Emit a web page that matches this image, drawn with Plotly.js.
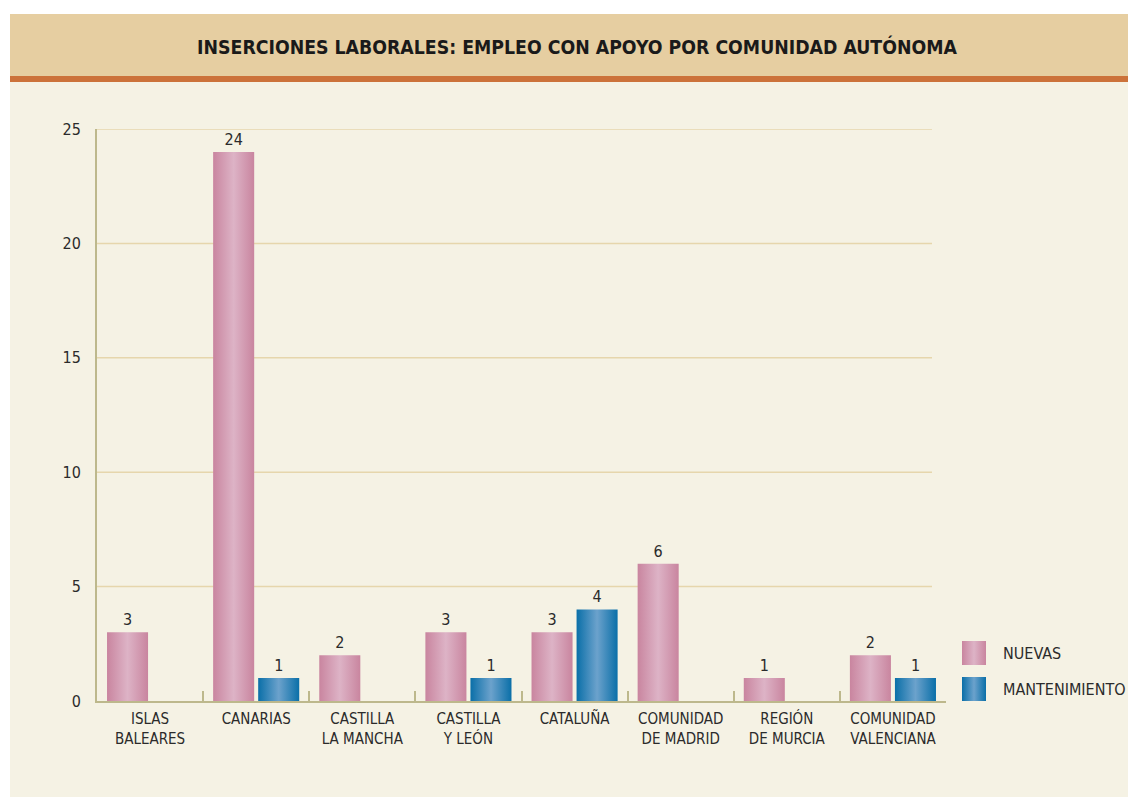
<!DOCTYPE html>
<html>
<head>
<meta charset="utf-8">
<script src="https://cdn.plot.ly/plotly-3.0.1.min.js"></script>
<style>
  html, body { margin: 0; padding: 0; background: #ffffff; width: 1128px; height: 798px; overflow: hidden; }
  #header { position: absolute; left: 10px; top: 14px; width: 1118px; height: 62px; background: #e6cea1; }
  #strip { position: absolute; left: 10px; top: 76px; width: 1118px; height: 6px; background: #cc723a; }
  #panel { position: absolute; left: 10px; top: 82px; width: 1118px; height: 715px; background: #f5f2e4; }
  #chart { position: absolute; left: 0; top: 0; width: 1128px; height: 798px; }
</style>
</head>
<body>
<div id="header"></div>
<div id="strip"></div>
<div id="panel"></div>
<div id="chart"></div>
<script>
// ---- data ----
const categories = [
  "ISLAS<br>BALEARES",
  "CANARIAS",
  "CASTILLA<br>LA MANCHA",
  "CASTILLA<br>Y LEÓN",
  "CATALUÑA",
  "COMUNIDAD<br>DE MADRID",
  "REGIÓN<br>DE MURCIA",
  "COMUNIDAD<br>VALENCIANA"
];
const nuevas = [3, 24, 2, 3, 3, 6, 1, 2];
const mantenimiento = [null, 1, null, 1, 4, null, null, 1];
const seriesNames = ["NUEVAS", "MANTENIMIENTO"];
const yTickVals = [0, 5, 10, 15, 20, 25];
const titleText = "INSERCIONES LABORALES: EMPLEO CON APOYO POR COMUNIDAD AUTÓNOMA";

// ---- styling ----
const FONT = '"Liberation Sans Narrow", "DejaVu Sans Condensed", "Roboto", sans-serif';
const pink = "#d29ab8";
const blue = "#1e7db5";
const textColor = "#2b2b2b";

const labelText = arr => arr.map(v => (v === null ? "" : String(v)));

const traces = [
  {
    type: "bar", name: seriesNames[0], x: categories, y: nuevas,
    marker: { color: pink, line: { width: 0 } },
    text: labelText(nuevas), textposition: "outside", cliponaxis: false,
    textfont: { family: FONT, size: 16, color: textColor },
    hoverinfo: "x+y"
  },
  {
    type: "bar", name: seriesNames[1], x: categories, y: mantenimiento,
    marker: { color: blue, line: { width: 0 } },
    text: labelText(mantenimiento), textposition: "outside", cliponaxis: false,
    textfont: { family: FONT, size: 16, color: textColor },
    hoverinfo: "x+y"
  }
];

// plot area pixel geometry
const L = 97, R = 946, T = 129, B = 701;
const W = R - L, H = B - T;
const px = x => (x - L) / W;
const py = y => (B - y) / H;

const shapes = [];
// gridlines (ending a bit before the axis end as in the reference)
yTickVals.filter(v => v > 0).forEach(v => {
  shapes.push({ type: "line", layer: "below", xref: "paper", yref: "y",
    x0: 0, x1: px(932), y0: v, y1: v, line: { color: "#e6d6ac", width: 1.5 } });
});
// custom legend swatches
shapes.push({ type: "rect", layer: "above", xref: "paper", yref: "paper",
  x0: px(962), x1: px(986), y0: py(665), y1: py(641), fillcolor: pink, line: { width: 0 } });
shapes.push({ type: "rect", layer: "above", xref: "paper", yref: "paper",
  x0: px(962), x1: px(986), y0: py(701), y1: py(677), fillcolor: blue, line: { width: 0 } });

const annotations = [
  { xref: "paper", yref: "paper", x: px(1001), y: py(653), xanchor: "left", yanchor: "middle",
    text: seriesNames[0], showarrow: false, font: { family: FONT, size: 16, color: textColor } },
  { xref: "paper", yref: "paper", x: px(1001), y: py(689), xanchor: "left", yanchor: "middle",
    text: seriesNames[1], showarrow: false, font: { family: FONT, size: 16, color: textColor } }
];

const layout = {
  width: 1128, height: 798,
  margin: { l: L, r: 1128 - R, t: T, b: 798 - B, pad: 0 },
  paper_bgcolor: "rgba(0,0,0,0)",
  plot_bgcolor: "rgba(0,0,0,0)",
  font: { family: FONT, size: 15, color: textColor },
  title: {
    text: "<b>" + titleText + "</b>",
    xref: "container", yref: "container",
    x: 577 / 1128, y: 1 - 47 / 798, xanchor: "center", yanchor: "middle",
    font: { family: FONT, size: 19.3, color: "#1a1a1a" }
  },
  showlegend: false,
  barmode: "group",
  bargap: 0.151,
  bargroupgap: 0.089,
  xaxis: {
    type: "category",
    showgrid: false, zeroline: false,
    showline: true, linecolor: "#bdb88c", linewidth: 2,
    ticks: "inside", tickson: "boundaries", ticklen: 10, tickwidth: 2, tickcolor: "#bdb88c",
    ticklabelstandoff: 3,
    tickfont: { family: FONT, size: 15, color: textColor },
    fixedrange: true
  },
  yaxis: {
    range: [0, 25],
    tickvals: yTickVals,
    showgrid: false, zeroline: false,
    showline: true, linecolor: "#bdb88c", linewidth: 2,
    ticks: "", ticklabelstandoff: 11,
    tickfont: { family: FONT, size: 16, color: textColor },
    fixedrange: true
  },
  shapes: shapes,
  annotations: annotations
};

Plotly.newPlot("chart", traces, layout, { displayModeBar: false, staticPlot: true }).then(gd => {
  // add horizontal cylinder-like gradients to bars and legend swatches
  const svg = gd.querySelector("svg.main-svg");
  const NS = "http://www.w3.org/2000/svg";
  const defs = svg.querySelector("defs") || svg.insertBefore(document.createElementNS(NS, "defs"), svg.firstChild);
  const mk = (id, edge, mid) => {
    const g = document.createElementNS(NS, "linearGradient");
    g.setAttribute("id", id);
    g.setAttribute("x1", "0"); g.setAttribute("x2", "1");
    g.setAttribute("y1", "0"); g.setAttribute("y2", "0");
    [[0, edge], [0.5, mid], [1, edge]].forEach(([o, c]) => {
      const s = document.createElementNS(NS, "stop");
      s.setAttribute("offset", o); s.setAttribute("stop-color", c);
      g.appendChild(s);
    });
    defs.appendChild(g);
  };
  mk("gradPink", "#c9859f", "#ddb3c6");
  mk("gradBlue", "#0a6fa8", "#6ca2cc");
  const barTraces = gd.querySelectorAll(".barlayer .trace.bars");
  barTraces.forEach((tr, i) => {
    tr.querySelectorAll("path").forEach(p => { p.style.fill = i === 0 ? "url(#gradPink)" : "url(#gradBlue)"; });
  });
  const legendRects = gd.querySelectorAll(".layer-above .shapelayer path");
  legendRects.forEach((p, i) => { p.style.fill = i === 0 ? "url(#gradPink)" : "url(#gradBlue)"; });
});
</script>
</body>
</html>
